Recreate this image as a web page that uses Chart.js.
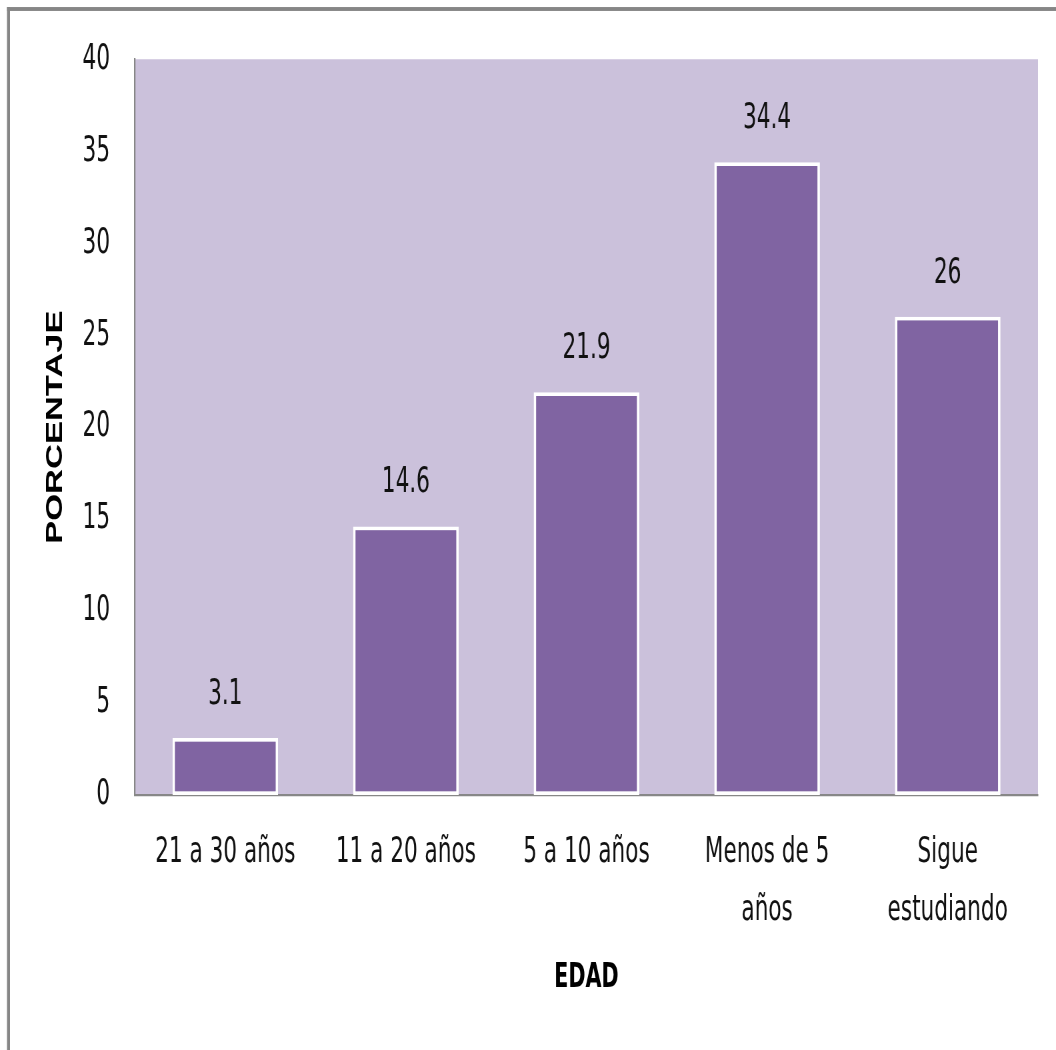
<!DOCTYPE html>
<html lang="es">
<head>
<meta charset="utf-8">
<title>Porcentaje por edad</title>
<script src="https://cdn.jsdelivr.net/npm/chart.js@4/dist/chart.umd.min.js"></script>
<style>
  html, body { margin: 0; padding: 0; background: #ffffff; overflow: hidden; }
  /* the drawing is laid out on a 1056x700 canvas and shown 1.5x taller */
  #wrap { width: 1056px; height: 1050px; overflow: hidden; }
  #chart { transform: scaleY(1.5); transform-origin: 0 0; }
</style>
</head>
<body>
<div id="wrap"><canvas id="chart" width="1056" height="700"></canvas></div>
<script>
const categories = ['21 a 30 años', '11 a 20 años', '5 a 10 años', ['Menos de 5', 'años'], ['Sigue', 'estudiando']];
const percentages = [3.1, 14.6, 21.9, 34.4, 26];
const yTicks = [0, 5, 10, 15, 20, 25, 30, 35, 40];
const yTitle = 'PORCENTAJE';
const xTitle = 'EDAD';

const narrow = '"Liberation Sans Narrow", "Arial Narrow", "DejaVu Sans Condensed", sans-serif';
const plotFill = '#cbc1db';
const barFill = '#8064a2';
const lineGray = '#878787';
const textColor = '#111111';

// plot background and the outer frame
const backdrop = {
  id: 'backdrop',
  beforeDraw(chart) {
    const { ctx, chartArea: a } = chart;
    ctx.save();
    ctx.fillStyle = plotFill;
    ctx.fillRect(a.left, a.top, a.right - a.left, a.bottom - a.top);
    ctx.fillStyle = '#868686';
    ctx.fillRect(7, 4.7, chart.width - 7, 2.6);
    ctx.fillRect(7, 4.7, 3, chart.height);
    ctx.restore();
  }
};

// value written above each bar
const valueLabels = {
  id: 'valueLabels',
  afterDatasetsDraw(chart) {
    const { ctx } = chart;
    const meta = chart.getDatasetMeta(0);
    ctx.save();
    ctx.fillStyle = textColor;
    ctx.font = '24px ' + narrow;
    ctx.textAlign = 'center';
    ctx.textBaseline = 'middle';
    meta.data.forEach((bar, i) => {
      ctx.fillText(String(percentages[i]), bar.x, bar.y - 29);
    });
    ctx.restore();
  }
};

new Chart(document.getElementById('chart'), {
  type: 'bar',
  data: {
    labels: categories,
    datasets: [{
      data: percentages,
      backgroundColor: barFill,
      borderColor: '#ffffff',
      borderWidth: 2.5,
      borderSkipped: false,
      categoryPercentage: 1,
      barPercentage: 0.585
    }]
  },
  options: {
    responsive: false,
    animation: false,
    devicePixelRatio: 1.5,
    layout: { padding: { top: 39.5, right: 18, bottom: 0, left: 0 } },
    plugins: {
      legend: { display: false },
      tooltip: { enabled: false }
    },
    scales: {
      x: {
        grid: { display: false, drawTicks: false },
        border: { display: true, color: lineGray, width: 1.5 },
        ticks: {
          color: textColor,
          font: { family: narrow, size: 24, lineHeight: 1.6 },
          padding: 19.5,
          maxRotation: 0,
          autoSkip: false
        },
        title: {
          display: true,
          text: xTitle,
          color: '#000000',
          font: { family: narrow, size: 23, weight: 'bold', lineHeight: 1.2 },
          padding: { top: 0, bottom: 34 }
        },
        afterFit(scale) { scale.height = 170; }
      },
      y: {
        min: 0,
        max: 40,
        grid: { display: false, drawTicks: false },
        border: { display: true, color: lineGray, width: 1.5 },
        afterBuildTicks(scale) { scale.ticks = yTicks.map(v => ({ value: v })); },
        ticks: {
          color: textColor,
          font: { family: narrow, size: 24 },
          padding: 25
        },
        title: {
          display: true,
          text: yTitle,
          color: '#000000',
          font: { family: '"Liberation Sans", Arial, sans-serif', size: 23, weight: 'bold', lineHeight: 1.2 },
          padding: { top: 42, bottom: 0 }
        },
        afterFit(scale) { scale.width = 135; }
      }
    }
  },
  plugins: [backdrop, valueLabels]
});
</script>
</body>
</html>
